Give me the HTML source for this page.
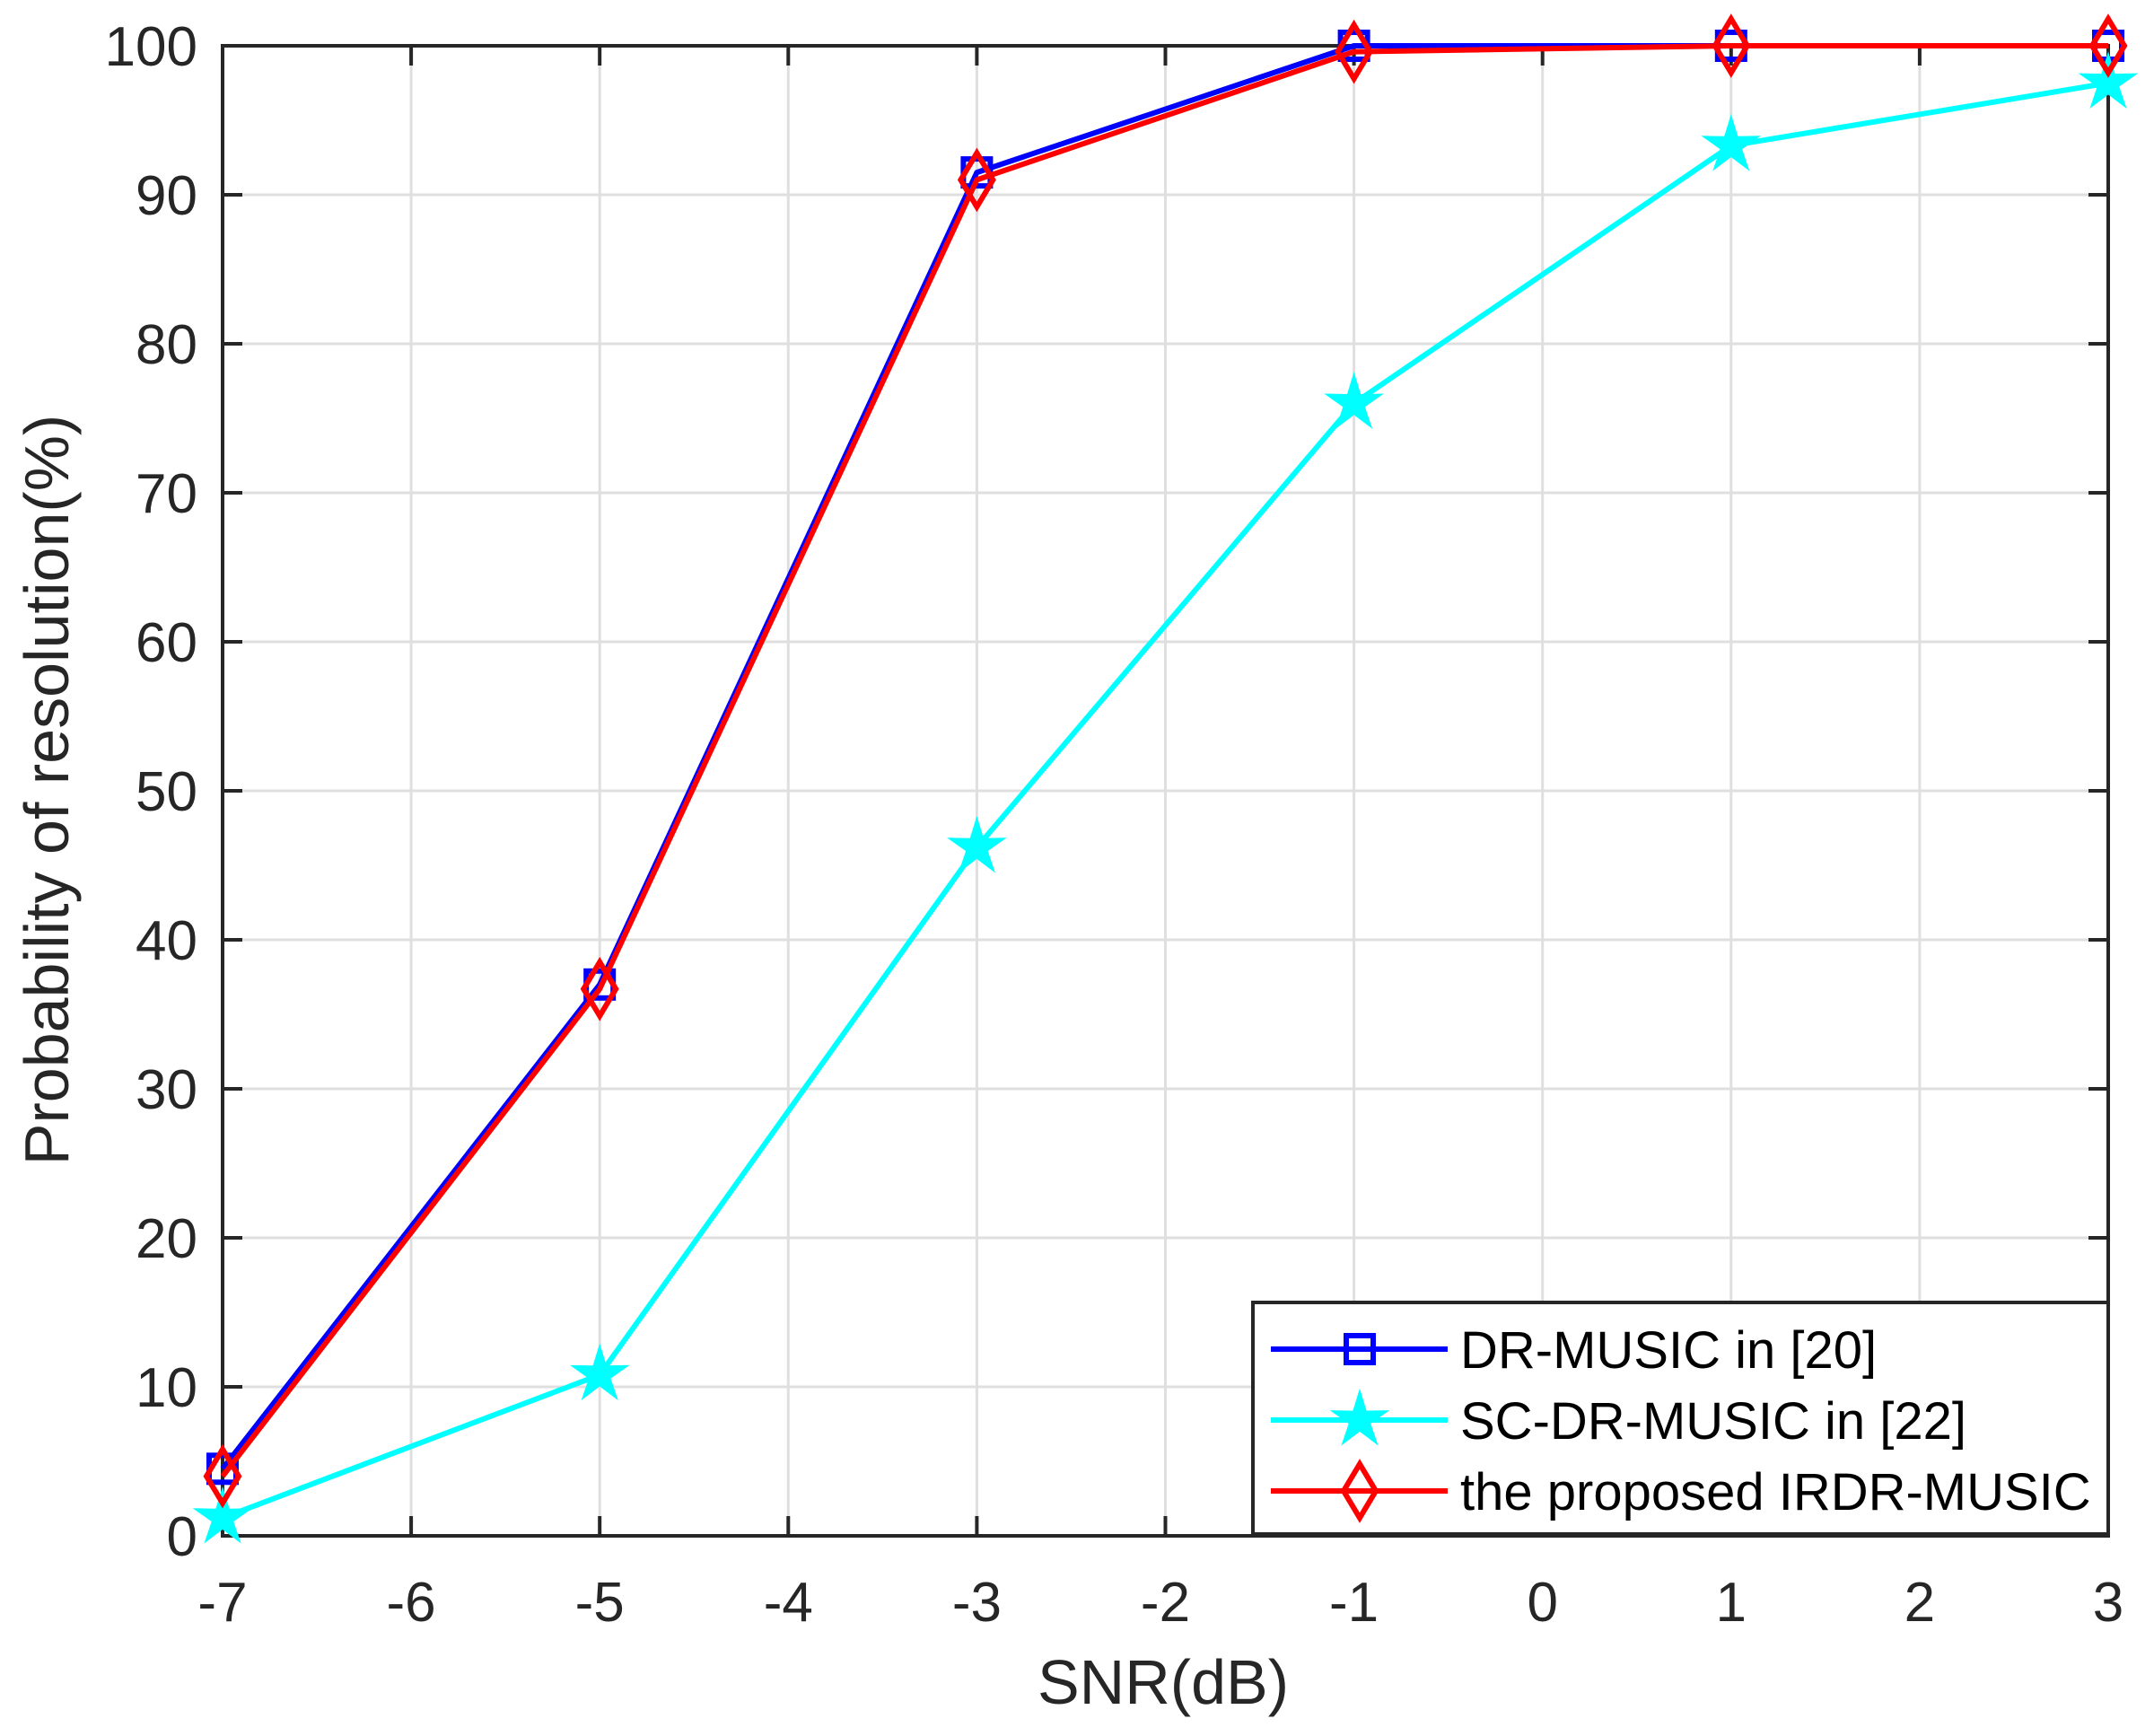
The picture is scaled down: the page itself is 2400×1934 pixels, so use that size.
<!DOCTYPE html>
<html><head><meta charset="utf-8"><style>
html,body{margin:0;padding:0;background:#fff;}
svg{display:block;font-family:"Liberation Sans",Arial,sans-serif;}
</style></head><body>
<svg id="chart" width="2400" height="1934" viewBox="0 0 2400 1934" xmlns="http://www.w3.org/2000/svg">
<rect width="2400" height="1934" fill="#fff"/>
<g id="grid"></g><g id="axes"></g><g id="series"></g><g id="legend"></g>
<text x="1296" y="1898" font-size="70" text-anchor="middle" fill="#262626">SNR(dB)</text>
<text transform="translate(76,880) rotate(-90)" font-size="70" text-anchor="middle" fill="#262626">Probability of resolution(%)</text>
</svg>
<script>
const xTicks=[-7,-6,-5,-4,-3,-2,-1,0,1,2,3];
const yTicks=[0,10,20,30,40,50,60,70,80,90,100];
const snr=[-7,-5,-3,-1,1,3];
const drMusic=[4.5,37,91.5,100,100,100];
const scDrMusic=[1.2,10.8,46.2,76,93.3,97.5];
const irdrMusic=[4,36.7,91,99.6,100,100];
const seriesNames=["DR-MUSIC in [20]","SC-DR-MUSIC in [22]","the proposed IRDR-MUSIC"];

const L=248,R=2349,T=51,B=1711;
const xs=v=>L+(v-(-7))/(3-(-7))*(R-L);
const ys=v=>B-(v/100)*(B-T);
const NS="http://www.w3.org/2000/svg";
function mk(tag,attrs,parent){const e=document.createElementNS(NS,tag);for(const k in attrs)e.setAttribute(k,attrs[k]);parent.appendChild(e);return e;}
const grid=document.getElementById('grid'),axes=document.getElementById('axes'),ser=document.getElementById('series'),leg=document.getElementById('legend');
xTicks.forEach(v=>{
  const g=mk('line',{x1:xs(v),x2:xs(v),y1:T,y2:B,stroke:'#dfdfdf','stroke-width':3},grid);
  
  
  const t1=mk('line',{x1:xs(v),x2:xs(v),y1:B,y2:B-22,stroke:'#262626','stroke-width':4},axes);
  
  
  const t2=mk('line',{x1:xs(v),x2:xs(v),y1:T,y2:T+22,stroke:'#262626','stroke-width':4},axes);
  
  
  const tx=mk('text',{x:xs(v),y:1806,'font-size':62,'text-anchor':'middle',fill:'#262626'},axes);
  tx.textContent=v;
  
  
});
yTicks.forEach(v=>{
  const g=mk('line',{x1:L,x2:R,y1:ys(v),y2:ys(v),stroke:'#dfdfdf','stroke-width':3},grid);
  
  
  const t1=mk('line',{x1:L,x2:L+22,y1:ys(v),y2:ys(v),stroke:'#262626','stroke-width':4},axes);
  
  
  const t2=mk('line',{x1:R,x2:R-22,y1:ys(v),y2:ys(v),stroke:'#262626','stroke-width':4},axes);
  
  
  const tx=mk('text',{x:220,y:ys(v)+22,'font-size':62,'text-anchor':'end',fill:'#262626'},axes);
  tx.textContent=v;
  
  
});
const box=mk('rect',{x:L,y:T,width:R-L,height:B-T,fill:'none',stroke:'#262626','stroke-width':4},axes);



function marker(type,x,y,parent){
  let e;
  if(type==='sq') e=mk('rect',{x:x-15,y:y-15,width:30,height:30,fill:'none',stroke:'#0000ff','stroke-width':6},parent);
  else if(type==='star'){
    let p=[];for(let i=0;i<10;i++){const r=i%2?11:30;const a=-Math.PI/2+i*Math.PI/5;p.push((x+r*Math.cos(a)).toFixed(1)+','+(y+r*Math.sin(a)).toFixed(1));}
    e=mk('polygon',{points:p.join(' '),fill:'#00ffff',stroke:'#00ffff','stroke-width':3},parent);
  } else e=mk('polygon',{points:`${x},${y-30} ${x+18},${y} ${x},${y+30} ${x-18},${y}`,fill:'none',stroke:'#ff0000','stroke-width':6},parent);
  return e;
}
const defs=[[drMusic,'#0000ff','sq','dr-music'],[scDrMusic,'#00ffff','star','sc-dr-music'],[irdrMusic,'#ff0000','dia','irdr-music']];
defs.forEach(([vals,col,m,name])=>{
  const pl=mk('polyline',{points:vals.map((v,i)=>xs(snr[i])+','+ys(v)).join(' '),fill:'none',stroke:col,'stroke-width':6,'stroke-linejoin':'round'},ser);
  
  
  vals.forEach((v,i)=>{
    const e=marker(m,xs(snr[i]),ys(v),ser);
    
    
  });
});
const lb=mk('rect',{x:1396,y:1451,width:953,height:258,fill:'#fff',stroke:'#262626','stroke-width':4},leg);


defs.forEach(([vals,col,m,name],i)=>{
  const y=1503+i*79;
  const ln=mk('line',{x1:1416,x2:1613,y1:y,y2:y,stroke:col,'stroke-width':6},leg);
  
  
  const mm=marker(m,1515,y,leg);
  
  
  const t=mk('text',{x:1627,y:y+21,'font-size':58,fill:'#000'},leg);
  t.textContent=seriesNames[i];
  
  
});
</script>
</body></html>
